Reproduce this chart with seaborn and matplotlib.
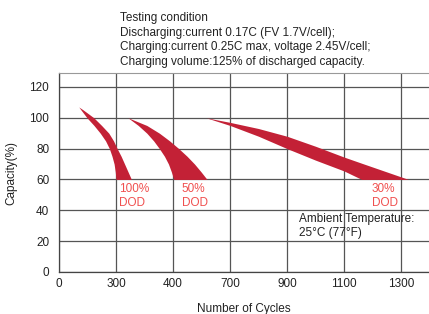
import numpy as np
import matplotlib
matplotlib.use("Agg")
import matplotlib.pyplot as plt
import seaborn as sns

# datos del grafico
tick_cycles = [0, 300, 400, 700, 900, 1100, 1300]
tick_labels = ["0", "300", "400", "700", "900", "1100", "1300"]
y_ticks = [0, 20, 40, 60, 80, 100, 120]

# 100% DOD (capacidad -> ciclos borde izq / der)
cap_100 = [107, 105, 100, 95, 90, 85, 80, 75, 70, 65, 60]
left_100 = [104, 116, 147, 184, 217, 245, 265, 279, 290, 296, 300]
right_100 = [104, 128, 183, 224, 262, 287, 302, 309, 315, 321, 327]

# 50% DOD
cap_50 = [100, 95, 90, 85, 80, 75, 70, 65, 60]
left_50 = [321, 339, 354, 366, 376, 385, 392, 397, 404]
right_50 = [321, 354, 376, 394, 430, 474, 513, 547, 579]

# 30% DOD (ciclos -> capacidad borde sup / inf)
cyc_30 = [574, 700, 800, 900, 1000, 1100, 1162, 1326]
upper_30 = [100, 97, 93, 88, 81.5, 74.5, 70.5, 60]
lower_30 = [100, 95, 88, 80, 72.5, 65.5, 60, 60]

sns.set_style("white")
plt.rcParams["font.family"] = ["Liberation Sans", "DejaVu Sans"]

rojo = "#C32136"
rojo_txt = "#F0504F"
gris = "#555555"
fs = 8.5

# el eje x no es lineal: cada tick ocupa el mismo ancho
pos = np.arange(len(tick_cycles))
def to_pos(c):
    c = np.asarray(c, dtype=float)
    return np.where(c <= 1300, np.interp(c, tick_cycles, pos), 6 + (c - 1300) / 200)

fig = plt.figure(figsize=(4.29, 3.14), dpi=100)
ax = fig.add_axes([59 / 429, 1 - 272 / 314, 1 - 59 / 429, 199 / 314])

ax.fill_betweenx(cap_100, to_pos(left_100), to_pos(right_100), color=rojo, lw=0)
ax.fill_betweenx(cap_50, to_pos(left_50), to_pos(right_50), color=rojo, lw=0)
ax.fill_between(to_pos(cyc_30), lower_30, upper_30, color=rojo, lw=0)

ax.set_xlim(0, 6.49)
ax.set_ylim(0, 129)
ax.set_xticks(pos)
ax.set_xticklabels(tick_labels)
ax.set_yticks(y_ticks)
ax.tick_params(axis="both", length=0, labelsize=fs, colors="#222222")
ax.tick_params(axis="y", pad=7)
ax.tick_params(axis="x", pad=4)
ax.grid(True, color=gris, linewidth=0.9)
ax.set_axisbelow(True)
for s in ["left", "bottom"]:
    ax.spines[s].set_color("#444444")
    ax.spines[s].set_linewidth(0.9)
ax.spines["top"].set_color("#999999")
ax.spines["right"].set_visible(False)

ax.set_xlabel("Number of Cycles", fontsize=fs, labelpad=10, color="#222222")
ax.set_ylabel("Capacity(%)", fontsize=fs, labelpad=9, color="#222222")

# etiquetas DOD
for c, txt in [(305, "100%\nDOD"), (447, "50%\nDOD"), (1198, "30%\nDOD")]:
    ax.text(to_pos(c), 57.5, txt, color=rojo_txt, fontsize=fs, va="top", ha="left",
            linespacing=1.2)

ax.text(to_pos(942), 38.5, "Ambient Temperature:\n25°C (77°F)", fontsize=fs,
        va="top", ha="left", linespacing=1.3, color="#222222")

fig.text(120 / 429, 1 - 12 / 314,
         "Testing condition\n"
         "Discharging:current 0.17C (FV 1.7V/cell);\n"
         "Charging:current 0.25C max, voltage 2.45V/cell;\n"
         "Charging volume:125% of discharged capacity.",
         fontsize=fs, va="top", ha="left", linespacing=1.3, color="#222222")

plt.savefig("out.png", dpi=100)
